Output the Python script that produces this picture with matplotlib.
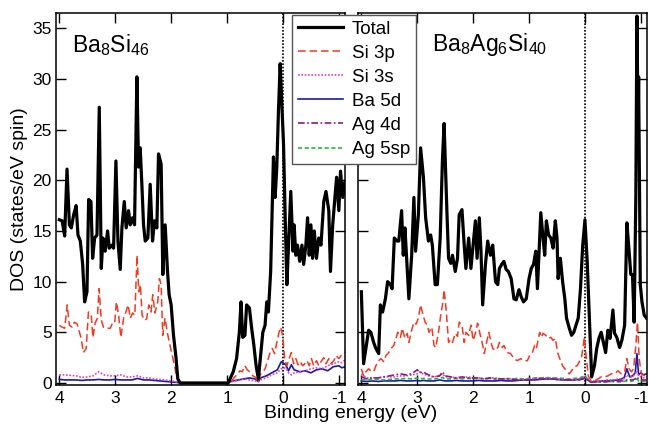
import matplotlib
matplotlib.use("Agg")
import matplotlib.pyplot as plt

plt.rcParams["font.family"] = ["Liberation Sans", "DejaVu Sans"]
plt.rcParams["mathtext.fontset"] = "custom"
plt.rcParams["mathtext.rm"] = "Liberation Sans"
plt.rcParams["mathtext.it"] = "Liberation Sans:italic"

# ---------------- Ba8Si46 ----------------
bs_total_e = [4.00, 3.95, 3.905, 3.863, 3.82, 3.786, 3.744, 3.70, 3.667, 3.625,
              3.583, 3.548, 3.506, 3.476, 3.435, 3.405, 3.369, 3.327, 3.286, 3.25,
              3.22, 3.18, 3.137, 3.107, 3.06, 3.03, 2.988, 2.952, 2.911, 2.881,
              2.839, 2.804, 2.762, 2.732, 2.69, 2.655, 2.613, 2.583, 2.554, 2.524,
              2.494, 2.464, 2.417, 2.375, 2.333, 2.298, 2.256, 2.226, 2.179, 2.149,
              2.107, 2.065, 2.036, 2.0, 1.958, 1.917, 1.881, 1.839, 1.80,
              0.98, 0.89, 0.83, 0.78, 0.75, 0.72, 0.68, 0.65, 0.60, 0.56,
              0.52, 0.48, 0.44, 0.40, 0.36, 0.32, 0.29, 0.26, 0.22, 0.17,
              0.14, 0.11, 0.08, 0.05, 0.02, -0.01, -0.04, -0.07, -0.10, -0.14,
              -0.18, -0.20, -0.23, -0.26, -0.30, -0.34, -0.37, -0.41, -0.44, -0.47,
              -0.50, -0.53, -0.56, -0.60, -0.64, -0.68, -0.73, -0.77, -0.82, -0.85,
              -0.89, -0.93, -0.96, -1.00, -1.03, -1.07, -1.11]
bs_total = [16.1, 16.0, 14.5, 21.1, 15.6, 15.3, 16.6, 17.5, 14.6, 14.0,
            11.7, 8.0, 9.0, 18.1, 17.9, 12.3, 14.3, 14.6, 27.2, 11.3,
            14.3, 13.0, 15.0, 13.3, 13.6, 13.3, 21.9, 14.0, 11.2, 15.3,
            17.9, 15.3, 17.0, 15.6, 16.3, 15.6, 30.2, 21.3, 23.2, 19.6,
            15.6, 14.0, 14.3, 19.6, 14.0, 16.0, 15.3, 22.6, 21.6, 10.7,
            15.6, 11.0, 8.7, 7.7, 4.7, 2.7, 0.4, 0.0, 0.0,
            0.0, 1.1, 2.4, 5.0, 8.0, 4.5, 4.7, 7.7, 7.4, 5.4,
            3.7, 1.7, 0.4, 2.7, 5.0, 5.7, 8.0, 7.0, 11.0, 22.3,
            18.3, 21.3, 26.9, 31.5, 27.5, 23.6, 16.3, 9.7, 13.6, 18.9,
            13.0, 15.6, 12.6, 13.6, 12.0, 13.6, 11.7, 13.6, 16.3, 12.6,
            15.6, 12.3, 15.0, 12.3, 14.3, 13.6, 17.9, 18.9, 17.0, 11.0,
            15.6, 18.3, 20.3, 17.0, 20.9, 18.3, 19.9]

bs_si3p_e = [4.0, 3.95, 3.905, 3.86, 3.82, 3.77, 3.73, 3.68, 3.64, 3.61,
             3.57, 3.52, 3.48, 3.43, 3.40, 3.36, 3.32, 3.29, 3.25, 3.21,
             3.18, 3.14, 3.09, 3.05, 3.01, 2.98, 2.94, 2.90, 2.85, 2.81,
             2.77, 2.73, 2.69, 2.65, 2.61, 2.58, 2.55, 2.52, 2.48, 2.44,
             2.40, 2.36, 2.33, 2.29, 2.24, 2.21, 2.18, 2.15, 2.11, 2.07,
             2.02, 1.98, 1.94, 1.90, 1.86, 1.80,
             1.0, 0.92, 0.86, 0.81, 0.77, 0.73, 0.68, 0.64, 0.59, 0.54,
             0.50, 0.44, 0.40, 0.36, 0.32, 0.28, 0.23, 0.19, 0.15, 0.11,
             0.07, 0.04, 0.0, -0.03, -0.07, -0.11, -0.15, -0.19, -0.23, -0.27,
             -0.31, -0.35, -0.39, -0.43, -0.47, -0.51, -0.55, -0.60, -0.64, -0.68,
             -0.73, -0.77, -0.82, -0.86, -0.91, -0.95, -1.00, -1.04, -1.09, -1.12]
bs_si3p = [5.7, 5.5, 5.4, 7.7, 5.7, 5.5, 6.0, 5.8, 5.0, 4.4,
           3.0, 3.4, 7.0, 6.7, 4.5, 5.9, 6.4, 9.3, 6.2, 5.5,
           5.5, 5.4, 5.4, 5.9, 5.9, 8.0, 6.7, 4.5, 6.4, 7.0,
           7.7, 6.4, 6.9, 6.7, 12.6, 9.0, 9.7, 6.7, 6.2, 6.3,
           7.7, 7.0, 8.7, 6.9, 8.0, 10.3, 9.7, 4.7, 6.4, 5.0,
           3.7, 2.7, 1.7, 0.6, 0.1, 0.0,
           0.0, 0.2, 0.6, 0.9, 1.2, 1.1, 1.7, 1.3, 1.1, 0.7,
           0.6, 0.1, 0.9, 1.1, 1.4, 2.1, 3.0, 3.4, 2.9, 4.0,
           5.0, 5.5, 4.5, 2.4, 1.7, 2.4, 3.0, 1.9, 2.4, 1.8,
           2.1, 1.7, 1.9, 2.2, 1.7, 2.4, 1.7, 2.2, 1.7, 2.1,
           2.5, 1.9, 2.4, 1.9, 2.2, 2.7, 2.4, 2.7, 2.9, 3.1]

bs_minor_e = [4.0, 3.9, 3.8, 3.7, 3.6, 3.5, 3.4, 3.3, 3.2, 3.1,
              3.0, 2.9, 2.8, 2.7, 2.6, 2.5, 2.4, 2.3, 2.2, 2.1,
              2.0, 1.9, 1.8,
              1.0, 0.9, 0.8, 0.7, 0.6, 0.5, 0.44, 0.4, 0.3, 0.2,
              0.1, 0.03, -0.05, -0.1, -0.15, -0.2, -0.3, -0.4, -0.5, -0.6,
              -0.7, -0.8, -0.9, -1.0, -1.05, -1.12]
bs_si3s = [0.8, 0.8, 0.75, 0.7, 0.55, 0.6, 0.7, 1.1, 0.8, 0.7,
           0.7, 0.8, 0.6, 0.6, 0.7, 0.5, 0.5, 0.4, 0.35, 0.3,
           0.2, 0.1, 0.0,
           0.0, 0.15, 0.25, 0.4, 0.3, 0.2, 0.1, 0.3, 0.5, 0.8,
           1.0, 1.4, 1.5, 1.0, 0.8, 1.0, 1.1, 1.2, 1.4, 1.5,
           1.4, 1.7, 1.9, 2.1, 2.0, 2.3]
bs_ba5d = [0.35, 0.3, 0.3, 0.3, 0.25, 0.3, 0.3, 0.35, 0.3, 0.3,
           0.35, 0.3, 0.3, 0.3, 0.45, 0.3, 0.3, 0.25, 0.2, 0.15,
           0.1, 0.05, 0.0,
           0.0, 0.2, 0.3, 0.4, 0.5, 0.4, 0.15, 0.5, 0.7, 1.0,
           1.3, 2.1, 1.8, 1.2, 1.8, 1.3, 1.1, 1.2, 1.0, 1.3,
           1.4, 1.2, 1.6, 1.7, 1.5, 1.6]

# ---------------- Ba8Ag6Si40 ----------------
bas_total_e = [4.0, 3.96, 3.92, 3.87, 3.83, 3.78, 3.74, 3.69, 3.66, 3.62,
               3.57, 3.53, 3.48, 3.45, 3.41, 3.36, 3.33, 3.28, 3.25, 3.22,
               3.19, 3.15, 3.10, 3.06, 3.03, 2.98, 2.94, 2.89, 2.85, 2.80,
               2.76, 2.73, 2.68, 2.64, 2.59, 2.55, 2.52, 2.47, 2.44, 2.40,
               2.37, 2.32, 2.28, 2.25, 2.20, 2.16, 2.13, 2.08, 2.04, 2.00,
               1.96, 1.93, 1.89, 1.86, 1.83, 1.78, 1.74, 1.69, 1.65, 1.60,
               1.56, 1.53, 1.49, 1.45, 1.41, 1.37, 1.32, 1.27, 1.23, 1.18,
               1.14, 1.10, 1.05, 1.00, 0.96, 0.92, 0.88, 0.85, 0.82, 0.79,
               0.75, 0.72, 0.69, 0.65, 0.61, 0.57, 0.53, 0.50, 0.48, 0.44,
               0.40, 0.36, 0.33, 0.28, 0.24, 0.20, 0.16, 0.12, 0.08, 0.04,
               0.0, -0.04, -0.08, -0.12, -0.17, -0.21, -0.25, -0.29, -0.33, -0.37,
               -0.41, -0.45, -0.50, -0.53, -0.57, -0.62, -0.66, -0.71, -0.75, -0.79,
               -0.82, -0.85, -0.88, -0.91, -0.93, -0.95, -0.96, -0.99, -1.02, -1.06,
               -1.10]
bas_total = [9.0, 1.9, 3.4, 5.2, 5.0, 4.0, 3.4, 2.9, 7.7, 7.0,
             8.3, 10.0, 9.7, 9.3, 14.3, 14.0, 14.0, 17.0, 12.6, 15.3,
             12.3, 8.3, 12.6, 18.3, 13.0, 16.6, 23.2, 20.3, 16.3, 14.0,
             14.6, 13.6, 9.7, 9.7, 14.3, 21.9, 25.6, 17.0, 12.3, 11.8,
             12.6, 11.0, 12.3, 16.6, 17.1, 13.6, 11.3, 14.3, 11.3, 13.6,
             16.0, 12.3, 16.3, 13.0, 7.7, 11.7, 14.0, 12.6, 13.6, 10.0,
             9.7, 11.3, 11.7, 12.0, 11.2, 11.0, 10.3, 8.3, 8.2, 9.2,
             8.5, 8.0, 8.3, 10.3, 11.3, 11.7, 13.0, 9.3, 13.0, 16.8,
             14.3, 12.6, 16.0, 14.6, 14.3, 13.3, 16.0, 14.3, 10.3, 12.3,
             10.0, 8.3, 6.4, 5.4, 4.7, 5.0, 5.7, 6.4, 9.3, 13.6,
             16.1, 12.0, 6.4, 0.6, 1.7, 3.4, 4.4, 5.0, 4.0, 3.0,
             5.2, 4.4, 7.2, 4.9, 4.5, 3.5, 4.2, 5.7, 15.8, 13.0,
             10.7, 10.7, 6.0, 18.3, 36.2, 25.0, 30.2, 9.7, 8.0, 6.7,
             6.4]

bas_si3p_e = [4.0, 3.96, 3.92, 3.87, 3.83, 3.78, 3.74, 3.69, 3.65, 3.60,
              3.56, 3.51, 3.47, 3.42, 3.39, 3.35, 3.30, 3.27, 3.22, 3.18,
              3.15, 3.10, 3.06, 3.02, 2.98, 2.94, 2.91, 2.86, 2.82, 2.79,
              2.74, 2.70, 2.67, 2.62, 2.58, 2.54, 2.52, 2.48, 2.44, 2.40,
              2.37, 2.32, 2.28, 2.25, 2.20, 2.16, 2.13, 2.08, 2.04, 2.00,
              1.96, 1.92, 1.88, 1.84, 1.80, 1.76, 1.72, 1.68, 1.65, 1.60,
              1.56, 1.53, 1.48, 1.45, 1.39, 1.33, 1.27, 1.21, 1.15, 1.10,
              1.03, 0.99, 0.94, 0.90, 0.87, 0.84, 0.81, 0.78, 0.75, 0.70,
              0.66, 0.61, 0.57, 0.53, 0.49, 0.45, 0.40, 0.36, 0.32, 0.28,
              0.24, 0.19, 0.14, 0.10, 0.06, 0.01, -0.02, -0.06, -0.11, -0.17,
              -0.23, -0.29, -0.35, -0.41, -0.47, -0.53, -0.59, -0.65, -0.71, -0.75,
              -0.79, -0.83, -0.87, -0.91, -0.94, -0.97, -1.01, -1.07, -1.11]
bas_si3p = [1.4, 0.7, 1.1, 1.4, 1.2, 1.1, 1.7, 2.2, 2.4, 2.1,
            2.7, 3.0, 3.4, 3.7, 4.2, 5.0, 4.5, 5.4, 4.4, 4.9,
            4.0, 5.2, 6.0, 5.8, 6.4, 7.7, 7.0, 6.0, 5.7, 5.0,
            5.5, 3.7, 3.5, 5.0, 6.7, 8.0, 9.2, 7.0, 4.0, 4.3,
            4.0, 4.9, 4.6, 6.0, 5.7, 4.0, 5.0, 4.7, 5.7, 4.2,
            4.9, 5.9, 4.9, 4.0, 2.9, 4.0, 5.0, 4.0, 3.4, 3.2,
            3.5, 4.0, 3.5, 3.7, 3.0, 2.9, 2.4, 2.2, 2.4, 2.2,
            2.2, 2.7, 3.0, 3.7, 3.4, 4.2, 5.0, 4.5, 4.9, 4.7,
            4.4, 4.5, 4.2, 4.4, 3.0, 2.4, 1.7, 1.4, 1.1, 0.9,
            1.2, 1.6, 1.7, 2.1, 2.6, 4.5, 2.7, 0.7, 0.2, 0.2,
            0.4, 0.6, 0.6, 0.7, 0.9, 0.9, 1.2, 0.9, 1.1, 2.4,
            1.4, 1.1, 1.4, 3.7, 6.0, 2.4, 0.9, 0.7, 0.6]

bas_minor_e = [4.0, 3.9, 3.8, 3.7, 3.6, 3.5, 3.4, 3.3, 3.2, 3.1,
               3.0, 2.95, 2.9, 2.8, 2.7, 2.6, 2.55, 2.5, 2.4, 2.3,
               2.2, 2.1, 2.0, 1.9, 1.8, 1.7, 1.6, 1.5, 1.4, 1.3,
               1.2, 1.1, 1.0, 0.9, 0.8, 0.7, 0.6, 0.5, 0.4, 0.3,
               0.2, 0.1, 0.0, -0.1, -0.2, -0.3, -0.4, -0.5, -0.6, -0.7,
               -0.75, -0.8, -0.85, -0.9, -0.93, -0.96, -1.0, -1.05, -1.1]
bas_si3s = [0.9, 0.5, 0.5, 0.5, 0.6, 0.6, 0.6, 0.7, 0.7, 0.8,
            0.9, 1.1, 0.9, 0.7, 0.6, 0.7, 0.9, 0.6, 0.6, 0.5,
            0.5, 0.6, 0.5, 0.5, 0.4, 0.5, 0.5, 0.4, 0.4, 0.4,
            0.35, 0.35, 0.4, 0.45, 0.5, 0.5, 0.5, 0.4, 0.35, 0.35,
            0.35, 0.4, 0.6, 0.15, 0.2, 0.2, 0.3, 0.3, 0.4, 0.4,
            0.8, 0.6, 0.6, 0.9, 1.2, 0.7, 0.6, 0.5, 0.6]
bas_ba5d = [0.2, 0.15, 0.2, 0.15, 0.2, 0.2, 0.2, 0.25, 0.2, 0.2,
            0.25, 0.2, 0.25, 0.2, 0.2, 0.3, 0.25, 0.2, 0.2, 0.25,
            0.2, 0.2, 0.2, 0.25, 0.2, 0.2, 0.2, 0.25, 0.2, 0.2,
            0.25, 0.3, 0.3, 0.3, 0.35, 0.4, 0.4, 0.35, 0.3, 0.3,
            0.3, 0.35, 0.5, 0.1, 0.15, 0.2, 0.2, 0.25, 0.3, 0.5,
            1.4, 0.6, 0.7, 1.0, 2.9, 0.8, 1.0, 0.8, 0.9]
bas_ag4d = [0.6, 0.4, 0.5, 0.5, 0.6, 0.7, 0.8, 0.9, 0.8, 0.9,
            1.3, 1.0, 1.1, 0.8, 0.6, 0.7, 1.1, 0.7, 0.6, 0.5,
            0.6, 0.5, 0.5, 0.5, 0.4, 0.5, 0.4, 0.4, 0.4, 0.35,
            0.3, 0.3, 0.3, 0.35, 0.4, 0.4, 0.4, 0.35, 0.3, 0.3,
            0.3, 0.3, 0.45, 0.1, 0.1, 0.1, 0.15, 0.15, 0.2, 0.2,
            0.3, 0.3, 0.3, 0.4, 0.6, 0.4, 0.3, 0.3, 0.3]
bas_ag5sp = [0.3, 0.35, 0.3, 0.35, 0.3, 0.35, 0.4, 0.4, 0.45, 0.4,
             0.5, 0.4, 0.45, 0.4, 0.4, 0.45, 0.55, 0.4, 0.4, 0.45,
             0.4, 0.45, 0.4, 0.45, 0.4, 0.45, 0.4, 0.4, 0.45, 0.4,
             0.45, 0.4, 0.45, 0.5, 0.5, 0.55, 0.5, 0.5, 0.45, 0.4,
             0.45, 0.5, 0.7, 0.1, 0.1, 0.1, 0.1, 0.15, 0.1, 0.15,
             0.2, 0.15, 0.2, 0.25, 0.4, 0.2, 0.2, 0.15, 0.2]

yticks = [0, 5, 10, 15, 20, 25, 30, 35]
xticks = [4, 3, 2, 1, 0, -1]

STYLE = {
    "Total":  dict(color="black", lw=2.3, ls="-"),
    "Si 3p":  dict(color="#f03a22", lw=1.1, ls=(0, (5, 2.5))),
    "Si 3s":  dict(color="#e63cc8", lw=1.2, ls=(0, (1, 1))),
    "Ba 5d":  dict(color="#1a1aa6", lw=1.2, ls="-"),
    "Ag 4d":  dict(color="#8a1a8a", lw=1.2, ls=(0, (4, 1.5, 1, 1.5))),
    "Ag 5sp": dict(color="#22bb33", lw=1.2, ls=(0, (2.5, 1.5))),
}

W, H = 649, 426
fig = plt.figure(figsize=(W / 100, H / 100), dpi=100)
ax1 = fig.add_axes([56 / W, 41 / H, 289 / W, 372 / H])
ax2 = fig.add_axes([358 / W, 41 / H, 289 / W, 372 / H])

ax1.plot(bs_minor_e, bs_ba5d, label="Ba 5d", **STYLE["Ba 5d"])
ax1.plot(bs_minor_e, bs_si3s, label="Si 3s", **STYLE["Si 3s"])
ax1.plot(bs_si3p_e, bs_si3p, label="Si 3p", **STYLE["Si 3p"])
ax1.plot(bs_total_e, bs_total, label="Total", **STYLE["Total"])

ax2.plot(bas_minor_e, bas_ba5d, label="Ba 5d", **STYLE["Ba 5d"])
ax2.plot(bas_minor_e, bas_ag5sp, label="Ag 5sp", **STYLE["Ag 5sp"])
ax2.plot(bas_minor_e, bas_si3s, label="Si 3s", **STYLE["Si 3s"])
ax2.plot(bas_minor_e, bas_ag4d, label="Ag 4d", **STYLE["Ag 4d"])
ax2.plot(bas_si3p_e, bas_si3p, label="Si 3p", **STYLE["Si 3p"])
ax2.plot(bas_total_e, bas_total, label="Total", **STYLE["Total"])

for ax in (ax1, ax2):
    ax.axvline(0, color="black", lw=1.2, ls=(0, (1, 1)), zorder=1)
    ax.set_xlim(4.06, -1.11)
    ax.set_ylim(-0.2, 36.5)
    ax.set_xticks(xticks)
    ax.set_xticklabels(["4", "3", "2", "1", "0", "-1"])
    ax.set_yticks(yticks)
    ax.tick_params(direction="in", length=7, width=1, top=True, right=True,
                   labelsize=12.5, pad=3)
    ax.tick_params(axis="x", pad=4)
    for sp in ax.spines.values():
        sp.set_linewidth(1.1)
ax2.tick_params(labelleft=False)

ax1.text(0.055, 0.915, "Ba$_8$Si$_{46}$", transform=ax1.transAxes,
         fontsize=16.5, va="center", ha="left")
ax2.text(0.255, 0.915, "Ba$_8$Ag$_6$Si$_{40}$", transform=ax2.transAxes,
         fontsize=16.5, va="center", ha="left")

fig.text(20 / W, 1 - 199 / H, "DOS (states/eV spin)", rotation=90,
         ha="center", va="center", fontsize=14)
fig.text(351 / W, 1 - 414 / H, "Binding energy (eV)", ha="center",
         va="center", fontsize=14)

order = ["Total", "Si 3p", "Si 3s", "Ba 5d", "Ag 4d", "Ag 5sp"]
hmap = {l.get_label(): l for l in ax2.get_lines()}
leg = fig.legend([hmap[k] for k in order], order, loc="upper left",
                 bbox_to_anchor=(292 / W, 1 - 15 / H), bbox_transform=fig.transFigure,
                 fontsize=13.5, frameon=True, fancybox=False, framealpha=1,
                 edgecolor="#555555", borderpad=0.3, borderaxespad=0,
                 handlelength=2.4, handletextpad=0.5, labelspacing=0.37)
leg.get_frame().set_linewidth(1.0)
leg.set_zorder(10)

fig.savefig("out.png", dpi=100)
